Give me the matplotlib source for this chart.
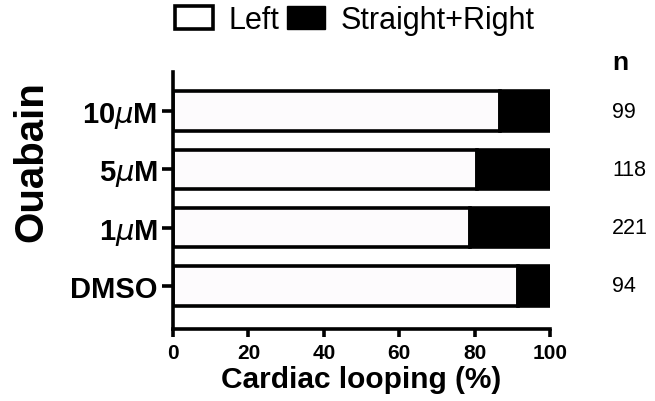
import matplotlib.pyplot as plt
from matplotlib.patches import Patch

plt.rcParams['font.family'] = ['Liberation Sans', 'DejaVu Sans']

groups = ['DMSO', '1$\\mu$M', '5$\\mu$M', '10$\\mu$M']
left_pct = [91.4, 78.8, 80.5, 86.7]
n_counts = [94, 221, 118, 99]

right_pct = [100 - v for v in left_pct]
pos = list(range(len(groups)))

fig = plt.figure(figsize=(6.55, 4.02), dpi=100)
ax = fig.add_axes([0.264, 0.179, 0.576, 0.639])

ax.barh(pos, left_pct, height=0.68, color='#fdfbfd', edgecolor='black', linewidth=2.6)
ax.barh(pos, right_pct, left=left_pct, height=0.68, color='black', edgecolor='black', linewidth=2.6)

ax.set_xlim(0, 100)
ax.set_ylim(-0.74, 3.67)
ax.set_xticks([0, 20, 40, 60, 80, 100])
ax.set_yticks(pos)
ax.set_yticklabels(groups)

for s in ['top', 'right']:
    ax.spines[s].set_visible(False)
for s in ['left', 'bottom']:
    ax.spines[s].set_linewidth(2.6)

ax.tick_params(axis='y', length=8, width=2.6, pad=3, labelsize=21)
ax.tick_params(axis='x', length=6, width=2.6, pad=4, labelsize=15)
for lab in ax.get_xticklabels() + ax.get_yticklabels():
    lab.set_fontweight('bold')

ax.set_xlabel('Cardiac looping (%)', fontsize=21.5, fontweight='bold', labelpad=2)
ax.set_ylabel('Ouabain', fontsize=29, fontweight='bold')
ax.yaxis.set_label_coords(-0.325, 0.654)

# n column on the right
tr = ax.get_yaxis_transform()
ax.text(1.164, 3.85, 'n', transform=tr, fontsize=19, fontweight='bold',
        ha='left', va='center', clip_on=False)
for p, n in zip(pos, n_counts):
    ax.text(1.164, p, str(n), transform=tr, fontsize=15.5,
            ha='left', va='center', clip_on=False)

handles = [Patch(facecolor='white', edgecolor='black', linewidth=2.6, label='Left'),
           Patch(facecolor='black', edgecolor='black', label='Straight+Right')]
fig.legend(handles=handles, loc='center', bbox_to_anchor=(355 / 655, 1 - 21 / 402),
           ncol=2, frameon=False, fontsize=22, handlelength=1.25, handleheight=0.8,
           handletextpad=0.5, columnspacing=0.25, borderpad=0)

fig.savefig('out.png', dpi=100)
